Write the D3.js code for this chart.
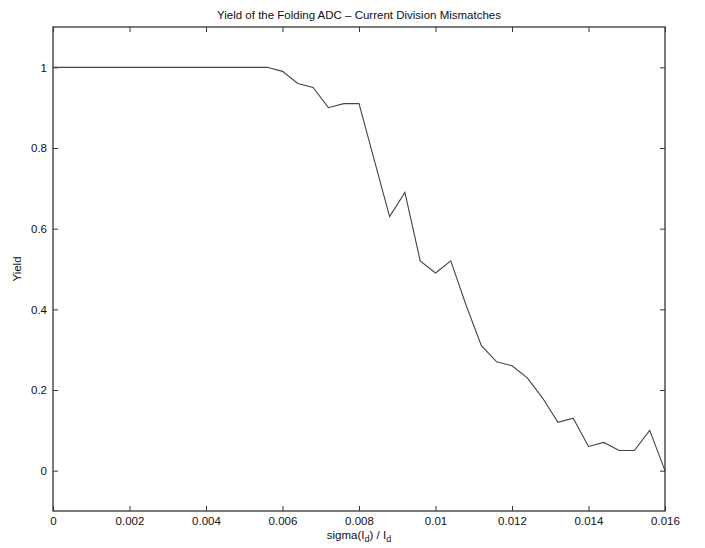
<!DOCTYPE html>
<html><head><meta charset="utf-8">
<script src="https://cdn.jsdelivr.net/npm/d3@7"></script>
<style>
html,body{margin:0;padding:0;background:#fff;}
text{font-family:"Liberation Sans",Arial,sans-serif;fill:#111;}
</style></head>
<body><svg id="c" width="705" height="548"></svg>
<script>
const xValues = [0,0.0004,0.0008,0.0012,0.0016,0.002,0.0024,0.0028,0.0032,0.0036,0.004,0.0044,0.0048,0.0052,0.0056,
  0.006,0.0064,0.0068,0.0072,0.0076,0.008,0.0084,0.0088,0.0092,0.0096,0.01,0.0104,0.0108,0.0112,0.0116,0.012,
  0.0124,0.0128,0.0132,0.0136,0.014,0.0144,0.0148,0.0152,0.0156,0.016];
const yieldValues = [1,1,1,1,1,1,1,1,1,1,1,1,1,1,1,
  0.99,0.96,0.95,0.90,0.91,0.91,0.77,0.63,0.69,0.52,0.49,0.52,0.41,0.31,0.27,0.26,
  0.23,0.18,0.12,0.13,0.06,0.07,0.05,0.05,0.10,0.00];
const xTicks = [0,0.002,0.004,0.006,0.008,0.01,0.012,0.014,0.016];
const xTickLabels = ["0","0.002","0.004","0.006","0.008","0.01","0.012","0.014","0.016"];
const yTicks = [0,0.2,0.4,0.6,0.8,1];
const yTickLabels = ["0","0.2","0.4","0.6","0.8","1"];
const titleText = "Yield of the Folding ADC \u2013 Current Division Mismatches";
const yLabelText = "Yield";

const L=53, R=665, T=27, B=511;
const svg = d3.select("#c");
const x = d3.scaleLinear().domain([0,0.016]).range([L,R]);
const y = d3.scaleLinear().domain([-0.1,1.1]).range([B,T]);
const col = "#333";

// line
const line = d3.line().x((d,i)=>x(xValues[i])).y(d=>y(d));
svg.append("path").datum(yieldValues).attr("d",line)
  .attr("fill","none").attr("stroke","#444").attr("stroke-width",1.1);

// axes with inward ticks
const fmtX = (d,i)=>xTickLabels[i];
const fmtY = (d,i)=>yTickLabels[i];
const gB = svg.append("g").attr("transform",`translate(0,${B})`)
  .call(d3.axisBottom(x).tickValues(xTicks).tickFormat(fmtX).tickSizeInner(-5).tickSizeOuter(0).tickPadding(6));
const gT = svg.append("g").attr("transform",`translate(0,${T})`)
  .call(d3.axisTop(x).tickValues(xTicks).tickFormat("").tickSizeInner(-5).tickSizeOuter(0));
const gL = svg.append("g").attr("transform",`translate(${L},0)`)
  .call(d3.axisLeft(y).tickValues(yTicks).tickFormat(fmtY).tickSizeInner(-5).tickSizeOuter(0).tickPadding(6));
const gR = svg.append("g").attr("transform",`translate(${R},0)`)
  .call(d3.axisRight(y).tickValues(yTicks).tickFormat("").tickSizeInner(-5).tickSizeOuter(0));
[gB,gT,gL,gR].forEach(g=>{
  g.select(".domain").remove();
  g.selectAll(".tick line").attr("stroke",col);
  g.selectAll(".tick text").attr("font-size",11.5).attr("fill","#111")
    .attr("font-family","Liberation Sans, Arial, sans-serif");
});
gB.selectAll(".tick text").attr("dy","0.71em");

// box
svg.append("rect").attr("x",L).attr("y",T).attr("width",R-L).attr("height",B-T)
  .attr("fill","none").attr("stroke",col).attr("stroke-width",1.3);

// title
svg.append("text").attr("x",(L+R)/2).attr("y",19).attr("text-anchor","middle")
  .attr("font-size",11.5).text(titleText);

// x label with subscripts
const xl = svg.append("text").attr("x",(L+R)/2).attr("y",539).attr("text-anchor","middle").attr("font-size",11.5);
xl.append("tspan").text("sigma(I");
xl.append("tspan").attr("baseline-shift","-30%").attr("font-size",9).text("d");
xl.append("tspan").text(") / I");
xl.append("tspan").attr("baseline-shift","-30%").attr("font-size",9).text("d");

// y label
svg.append("text").attr("transform","translate(21,269) rotate(-90)").attr("text-anchor","middle")
  .attr("font-size",11.5).text(yLabelText);
</script></body></html>
